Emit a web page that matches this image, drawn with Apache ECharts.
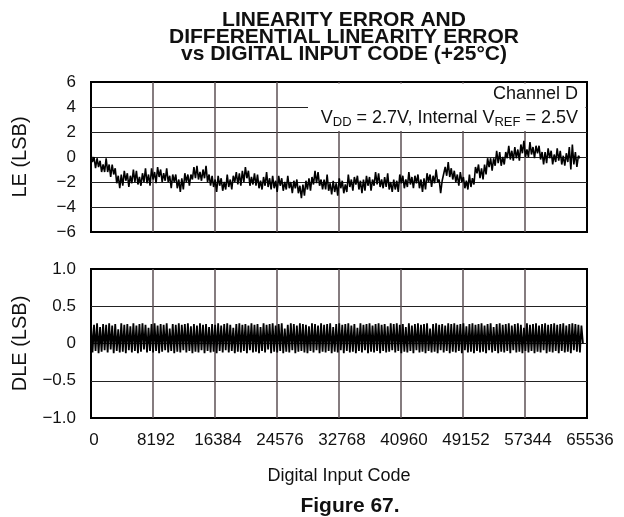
<!DOCTYPE html>
<html>
<head>
<meta charset="utf-8">
<script src="https://cdn.jsdelivr.net/npm/echarts@6/dist/echarts.min.js"></script>
<style>
  html, body { margin: 0; padding: 0; background: #fff; }
  #chart { width: 624px; height: 517px; }
</style>
</head>
<body>
<div id="chart"></div>
<script>
// Spacing, in input codes, between consecutive samples of both traces
const codeStep = 200;

// Linearity error (LSB), one sample every codeStep codes starting at code 0
const leValues = [
  0.2,-0.4,0.0,-0.9,-0.1,-0.8,-0.3,-1.2,-0.6,-1.2,
  -0.1,-1.2,-0.6,-1.6,-0.6,-1.4,-0.9,-2.1,-1.5,-2.5,
  -1.4,-2.3,-1.1,-1.9,-1.3,-2.4,-1.5,-2.1,-1.0,-2.0,
  -1.1,-2.2,-1.6,-2.3,-1.3,-2.0,-0.9,-2.1,-1.4,-2.3,
  -0.9,-1.8,-1.2,-2.1,-0.8,-1.6,-1.0,-2.0,-1.3,-1.9,
  -0.9,-2.0,-1.5,-2.5,-1.4,-2.0,-1.4,-2.5,-1.8,-2.8,
  -1.7,-2.6,-1.3,-2.0,-1.4,-2.3,-1.4,-1.8,-0.8,-1.7,
  -0.7,-1.8,-1.2,-1.9,-1.0,-1.7,-0.7,-2.0,-1.4,-2.3,
  -1.5,-2.4,-1.8,-2.8,-1.5,-2.3,-1.7,-2.7,-2.0,-2.6,
  -1.4,-2.4,-1.8,-2.6,-1.5,-2.0,-1.2,-2.2,-1.3,-2.3,
  -1.1,-2.0,-0.8,-1.7,-1.1,-2.3,-1.6,-2.2,-1.3,-2.3,
  -1.4,-2.5,-1.9,-2.6,-1.6,-2.3,-1.2,-2.4,-1.7,-2.6,
  -1.5,-2.5,-1.9,-2.8,-1.5,-2.3,-1.7,-2.7,-2.0,-2.6,
  -1.5,-2.5,-2.0,-2.9,-1.9,-2.5,-1.8,-2.9,-2.3,-3.3,
  -2.2,-3.1,-1.9,-2.6,-1.7,-2.7,-1.6,-2.2,-1.1,-2.1,
  -1.2,-2.3,-1.8,-2.6,-1.8,-2.6,-1.4,-2.7,-2.1,-3.0,
  -1.9,-2.8,-2.1,-3.1,-1.7,-2.5,-1.9,-2.9,-2.2,-2.8,
  -1.4,-2.4,-1.8,-2.7,-1.6,-2.2,-1.5,-2.6,-1.9,-2.9,
  -1.8,-2.7,-1.5,-2.3,-1.6,-2.7,-1.8,-2.3,-1.2,-2.2,
  -1.3,-2.4,-1.8,-2.5,-1.6,-2.4,-1.3,-2.6,-2.0,-2.8,
  -1.8,-2.6,-1.9,-2.8,-1.4,-2.1,-1.5,-2.5,-1.8,-2.4,
  -1.2,-2.2,-1.6,-2.5,-1.5,-2.1,-1.4,-2.5,-1.8,-2.8,
  -1.7,-2.6,-1.3,-2.0,-1.4,-2.4,-1.5,-2.1,-1.0,-2.0,
  -1.8,-2.9,-1.9,-2.0,-0.8,-1.5,-0.4,-1.6,-0.9,-1.8,
  -1.1,-2.0,-1.4,-2.3,-1.2,-2.0,-1.6,-2.5,-1.9,-2.6,
  -1.4,-2.4,-1.7,-2.2,-0.8,-1.3,-0.6,-1.7,-0.9,-1.8,
  -0.6,-1.4,-0.1,-0.8,-0.1,-1.1,-0.1,-0.7,0.5,-0.5,
  0.4,-0.7,0.0,-0.6,0.4,-0.1,0.9,-0.2,0.5,-0.3,
  0.8,-0.1,0.6,-0.3,1.0,0.3,1.3,0.0,0.6,0.0,
  1.2,0.2,0.8,-0.1,0.9,0.3,0.9,-0.2,0.4,-0.6,
  0.4,-0.5,0.7,-0.1,0.5,-0.6,0.2,-0.4,0.7,-0.3,
  0.5,-0.6,0.1,-0.7,0.3,-0.4,0.8,-1.0,1.0,-0.6,
  0.4,-0.8,0.1,-0.1
];

// Differential linearity error (LSB), same code spacing
const dleValues = [
  0.26,-0.12,0.25,-0.10,0.27,-0.13,0.22,-0.11,0.26,-0.09,
  0.25,-0.12,0.27,-0.08,0.24,-0.13,0.26,-0.10,0.19,-0.12,
  0.27,-0.11,0.25,-0.13,0.26,-0.09,0.23,-0.12,0.27,-0.10,
  0.24,-0.13,0.26,-0.11,0.27,-0.08,0.25,-0.12,0.21,-0.10,
  0.26,-0.12,0.27,-0.10,0.24,-0.13,0.26,-0.11,0.25,-0.09,
  0.27,-0.12,0.20,-0.10,0.26,-0.13,0.25,-0.11,0.27,-0.12,
  0.25,-0.09,0.26,-0.12,0.27,-0.10,0.23,-0.13,0.26,-0.11,
  0.24,-0.12,0.27,-0.09,0.25,-0.13,0.26,-0.10,0.22,-0.12,
  0.26,-0.11,0.25,-0.13,0.27,-0.10,0.24,-0.12,0.26,-0.09,
  0.27,-0.12,0.25,-0.10,0.21,-0.13,0.26,-0.11,0.27,-0.12,
  0.25,-0.10,0.26,-0.13,0.24,-0.09,0.27,-0.12,0.25,-0.11,
  0.26,-0.13,0.22,-0.10,0.27,-0.12,0.25,-0.08,0.26,-0.13,
  0.27,-0.11,0.24,-0.12,0.26,-0.10,0.27,-0.13,0.20,-0.11,
  0.25,-0.12,0.27,-0.09,0.26,-0.13,0.24,-0.11,0.27,-0.10,
  0.26,-0.12,0.25,-0.13,0.23,-0.10,0.27,-0.12,0.26,-0.09,
  0.24,-0.13,0.27,-0.11,0.25,-0.12,0.26,-0.10,0.27,-0.13,
  0.22,-0.11,0.26,-0.12,0.27,-0.09,0.25,-0.13,0.26,-0.10,
  0.27,-0.12,0.24,-0.11,0.26,-0.13,0.21,-0.10,0.27,-0.12,
  0.25,-0.09,0.26,-0.13,0.27,-0.11,0.24,-0.12,0.26,-0.10,
  0.27,-0.13,0.25,-0.10,0.26,-0.12,0.23,-0.11,0.27,-0.09,
  0.26,-0.12,0.27,-0.10,0.25,-0.13,0.26,-0.11,0.22,-0.12,
  0.27,-0.10,0.24,-0.13,0.26,-0.09,0.27,-0.12,0.25,-0.11,
  0.26,-0.13,0.27,-0.10,0.20,-0.12,0.26,-0.11,0.27,-0.13,
  0.25,-0.09,0.26,-0.12,0.24,-0.10,0.27,-0.13,0.26,-0.11,
  0.27,-0.12,0.25,-0.10,0.26,-0.13,0.27,-0.09,0.23,-0.12,
  0.26,-0.11,0.27,-0.13,0.25,-0.10,0.26,-0.12,0.27,-0.11,
  0.24,-0.13,0.26,-0.09,0.27,-0.12,0.22,-0.10,0.26,-0.13,
  0.27,-0.11,0.25,-0.12,0.26,-0.10,0.27,-0.13,0.24,-0.09,
  0.26,-0.12,0.27,-0.11,0.25,-0.13,0.21,-0.10,0.27,-0.12,
  0.25,-0.10,0.26,-0.13,0.27,-0.11,0.24,-0.12,0.26,-0.09,
  0.27,-0.13,0.25,-0.11,0.26,-0.12,0.27,-0.10,0.25,-0.13,
  0.26,-0.10,0.27,-0.12,0.24,-0.11,0.26,-0.13,0.27,-0.09,
  0.26,-0.11,0.25,-0.12,0.24,0
];

// Axis ticks
const xTickCodes = [0, 8192, 16384, 24576, 32768, 40960, 49152, 57344, 65536];
const leTicks = [-6, -4, -2, 0, 2, 4, 6];
const dleTicks = [-1.0, -0.5, 0, 0.5, 1.0];

const titleLines = [
  'LINEARITY ERROR AND',
  'DIFFERENTIAL LINEARITY ERROR',
  'vs DIGITAL INPUT CODE (+25\u00B0C)'
];

const FONT = '"Liberation Sans", Arial, Helvetica, sans-serif';
const INK = '#111';
const minus = s => String(s).replace('-', '\u2212');

const toPairs = vals => vals.map((v, i) => [i * codeStep, v]);
const span = ticks => ({
  min: ticks[0],
  max: ticks[ticks.length - 1],
  interval: ticks[1] - ticks[0]
});

function xAxisFor(gridIndex, withLabels) {
  return Object.assign({
    type: 'value',
    gridIndex: gridIndex,
    axisLine: { show: false },
    axisTick: { show: false },
    axisLabel: {
      show: withLabels,
      margin: 14,
      fontSize: 17,
      color: INK,
      fontFamily: FONT,
      padding: [0, 0, 0, 6],
      formatter: v => String(v)
    },
    splitLine: {
      show: true,
      showMinLine: false,
      showMaxLine: false,
      lineStyle: { color: '#5d5155', width: 1.5 }
    }
  }, span(xTickCodes));
}

function yAxisFor(gridIndex, ticks, name, fmt) {
  return Object.assign({
    type: 'value',
    gridIndex: gridIndex,
    name: name,
    nameLocation: 'middle',
    nameGap: 61,
    nameTextStyle: { fontSize: 20, color: INK, fontFamily: FONT },
    axisLine: { show: false },
    axisTick: { show: false },
    axisLabel: {
      margin: 15,
      fontSize: 17,
      color: INK,
      fontFamily: FONT,
      formatter: fmt
    },
    splitLine: {
      show: true,
      showMinLine: false,
      showMaxLine: false,
      lineStyle: { color: '#222', width: 1 }
    }
  }, span(ticks));
}

const chart = echarts.init(document.getElementById('chart'), null, { renderer: 'canvas' });

chart.setOption({
  animation: false,
  backgroundColor: '#fff',
  textStyle: { fontFamily: FONT },
  title: [
    {
      text: titleLines.join('\n'),
      left: 339,
      top: 7,
      textAlign: 'center',
      textStyle: { fontSize: 21, fontWeight: 'bold', color: INK, lineHeight: 17, fontFamily: FONT }
    },
    {
      text: 'Figure 67.',
      left: 345,
      top: 491,
      textAlign: 'center',
      textStyle: { fontSize: 21, fontWeight: 'bold', color: INK, fontFamily: FONT }
    }
  ],
  grid: [
    { left: 91, top: 82, width: 496, height: 150, show: true, borderColor: '#000', borderWidth: 2 },
    { left: 91, top: 269, width: 496, height: 149, show: true, borderColor: '#000', borderWidth: 2 }
  ],
  xAxis: [
    xAxisFor(0, false),
    Object.assign(xAxisFor(1, true), {
      name: 'Digital Input Code',
      nameLocation: 'middle',
      nameGap: 49,
      nameTextStyle: { fontSize: 18, color: INK, fontFamily: FONT }
    })
  ],
  yAxis: [
    yAxisFor(0, leTicks, 'LE (LSB)', v => minus(v)),
    yAxisFor(1, dleTicks, 'DLE (LSB)', v => (v === 0 ? '0' : minus(v.toFixed(1))))
  ],
  graphic: [
    {
      type: 'rect',
      z: 1,
      shape: { x: 308, y: 83.5, width: 277.5, height: 47.5 },
      style: { fill: '#fff' }
    },
    {
      type: 'text',
      z: 3,
      style: {
        text: 'Channel D',
        x: 578, y: 94.5,
        align: 'right', verticalAlign: 'middle',
        fill: INK,
        font: '18px ' + FONT
      }
    },
    {
      type: 'text',
      z: 3,
      style: {
        text: '{n|V}{s|DD}{n| = 2.7V, Internal V}{s|REF}{n| = 2.5V}',
        x: 578, y: 119.5,
        align: 'right', verticalAlign: 'middle',
        fill: INK,
        font: '18px ' + FONT,
        rich: {
          n: { fontSize: 18, lineHeight: 20, verticalAlign: 'top', fontFamily: FONT, fill: INK },
          s: { fontSize: 13, lineHeight: 20, verticalAlign: 'top', padding: [6, 0, 0, 0], fontFamily: FONT, fill: INK }
        }
      }
    }
  ],
  series: [
    {
      type: 'line',
      name: 'LE',
      xAxisIndex: 0,
      yAxisIndex: 0,
      data: toPairs(leValues),
      showSymbol: false,
      sampling: false,
      lineStyle: { color: '#000', width: 1.6 },
      z: 4
    },
    {
      type: 'line',
      name: 'DLE',
      xAxisIndex: 1,
      yAxisIndex: 1,
      data: toPairs(dleValues),
      showSymbol: false,
      sampling: false,
      lineStyle: { color: '#000', width: 1.8 },
      z: 4
    }
  ]
});
</script>
</body>
</html>
